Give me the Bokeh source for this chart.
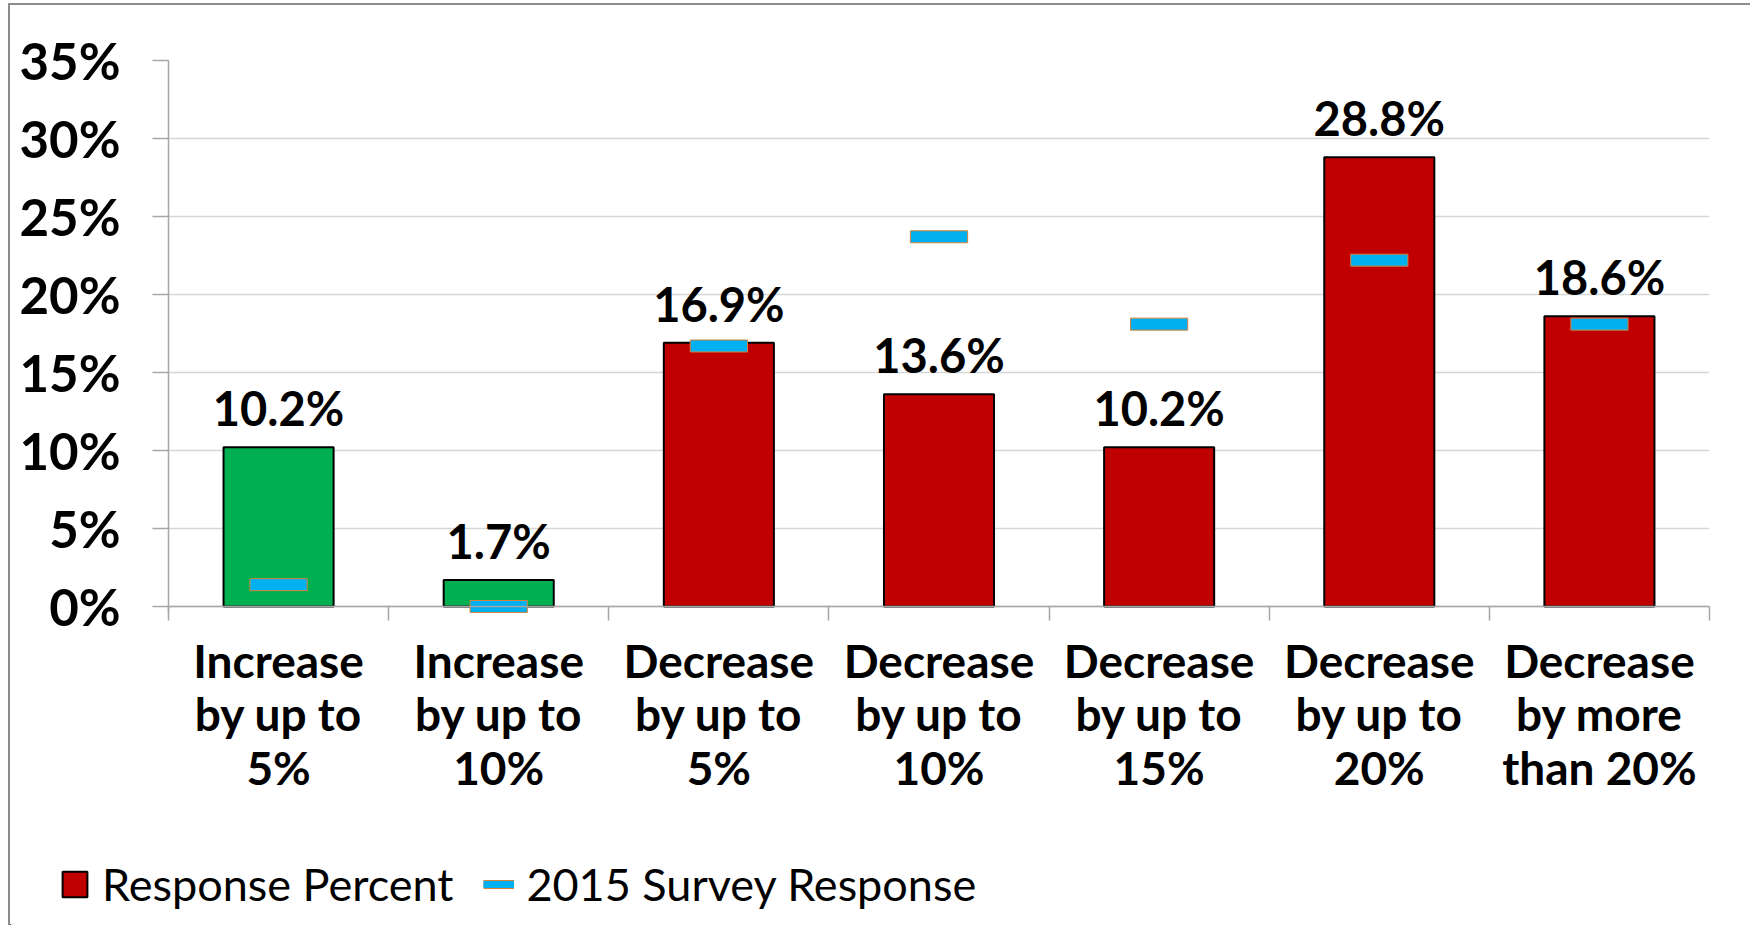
from bokeh.plotting import figure
from bokeh.layouts import column
from bokeh.models import FixedTicker, Legend, LegendItem, ColumnDataSource, Range1d, Span
from bokeh.core.properties import value
from bokeh.embed import file_html
from bokeh.resources import INLINE

categories = ["Increase\nby up to\n5%", "Increase\nby up to\n10%", "Decrease\nby up to\n5%",
              "Decrease\nby up to\n10%", "Decrease\nby up to\n15%", "Decrease\nby up to\n20%",
              "Decrease\nby more\nthan 20%"]
response_percent = [10.2, 1.7, 16.9, 13.6, 10.2, 28.8, 18.6]
survey_2015 = [1.4, 0.0, 16.7, 23.7, 18.1, 22.2, 18.1]
bar_colors = ["#00b050", "#00b050", "#c00000", "#c00000", "#c00000", "#c00000", "#c00000"]
y_ticks = [0, 5, 10, 15, 20, 25, 30, 35]
legend_labels = ["Response Percent", "2015 Survey Response"]

W = 1740
xs = [i + 0.5 for i in range(len(categories))]
src = ColumnDataSource(dict(x=xs, top=response_percent, prev=survey_2015, color=bar_colors,
                            label=[f"{v:.1f}%" for v in response_percent]))

p = figure(width=W, height=825, output_backend="svg", toolbar_location=None,
           x_range=Range1d(0, 7), y_range=Range1d(-0.45, 35),
           min_border_left=158, min_border_right=41, min_border_top=55, min_border_bottom=217)
p.outline_line_color = None
p.background_fill_color = "white"
p.frame_align = False

p.xgrid.grid_line_color = None
p.ygrid.ticker = FixedTicker(ticks=y_ticks)
p.ygrid.grid_line_color = "#d6d6d6"
p.ygrid.grid_line_width = 1.5

p.add_layout(Span(location=0, dimension="width", line_color="#a6a6a6", line_width=1.5))

p.vbar(x="x", top="top", bottom=0, width=0.5, source=src, fill_color="color",
       line_color="black", line_width=2)
p.rect(x="x", y="prev", width=0.26, height=12, height_units="screen", source=src,
       fill_color="#00b0f0", line_color="#d8823a", line_width=1)
p.text(x="x", y="top", text="label", source=src, y_offset=-39, text_align="center",
       text_baseline="alphabetic", text_font=value("Lato"), text_font_style="bold",
       text_font_size="47px", text_color="black")

# axes
xa = p.xaxis[0]
xa.ticker = FixedTicker(ticks=xs, minor_ticks=list(range(8)))
xa.major_label_overrides = {x: c for x, c in zip(xs, categories)}
xa.axis_line_color = None
xa.major_tick_line_color = None
xa.major_tick_out = 0
xa.major_tick_in = 0
xa.minor_tick_line_color = "#a6a6a6"
xa.minor_tick_line_width = 1.5
xa.minor_tick_out = 7
xa.minor_tick_in = 7
xa.major_label_standoff = 12
xa.major_label_text_font = "Lato"
xa.major_label_text_font_style = "bold"
xa.major_label_text_font_size = "46px"
xa.major_label_text_line_height = 0.98
xa.major_label_text_color = "black"

ya = p.yaxis[0]
ya.ticker = FixedTicker(ticks=y_ticks, minor_ticks=[])
ya.major_label_overrides = {t: f"{t}%" for t in y_ticks}
ya.axis_line_color = "#a6a6a6"
ya.axis_line_width = 1.5
ya.major_tick_line_color = "#a6a6a6"
ya.major_tick_line_width = 1.5
ya.major_tick_out = 16
ya.major_tick_in = 0
ya.minor_tick_line_color = None
ya.major_label_standoff = 32
ya.major_label_text_font = "Lato"
ya.major_label_text_font_style = "bold"
ya.major_label_text_font_size = "51px"
ya.major_label_text_color = "black"

# legend strip: the same series drawn out of view, so only their legend keys show
pl = figure(width=W, height=95, output_backend="svg", toolbar_location=None,
            x_range=Range1d(100, 101), y_range=Range1d(100, 101), min_border=0,
            x_axis_type=None, y_axis_type=None)
pl.frame_align = False
pl.outline_line_color = None
pl.grid.grid_line_color = None
k1 = pl.vbar(x="x", top="top", width=0.5, source=src, fill_color="color",
             line_color="black", line_width=2)
k2a = pl.line(x="x", y="prev", source=src, line_color="#d8823a", line_width=9)
k2b = pl.line(x="x", y="prev", source=src, line_color="#00b0f0", line_width=7)
legend = Legend(items=[LegendItem(label=legend_labels[0], renderers=[k1], index=2),
                       LegendItem(label=legend_labels[1], renderers=[k2a, k2b])],
                orientation="horizontal", location=(49, 14),
                glyph_width=31, glyph_height=32, label_standoff=12, spacing=30,
                padding=0, margin=0, border_line_color=None, background_fill_alpha=0,
                label_text_font="Lato", label_text_font_size="45px", label_text_color="black")
pl.add_layout(legend, "center")

layout = column(p, pl, spacing=0)
layout.styles = {"border-left": "2px solid #8c8c8c", "border-top": "2px solid #8c8c8c",
                 "margin-left": "8px", "margin-top": "3px"}

open("out.html", "w").write(file_html(layout, INLINE))
